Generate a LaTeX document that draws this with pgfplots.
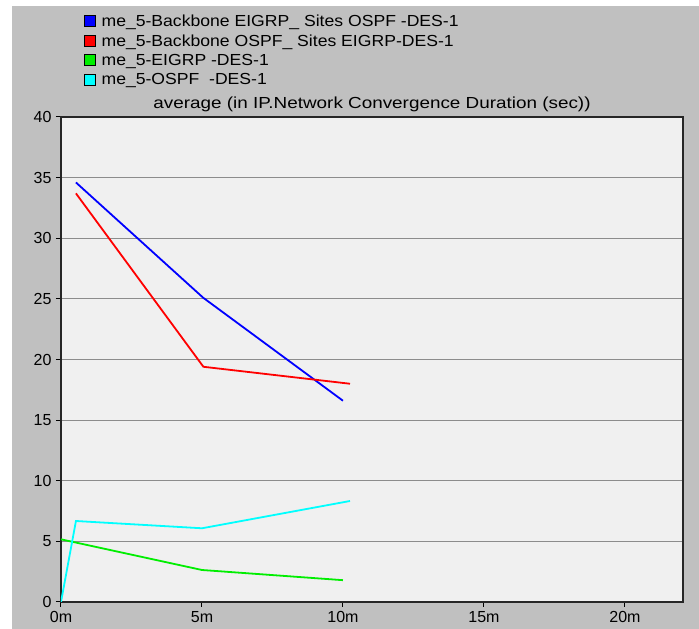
\documentclass[border=0pt]{standalone}
\usepackage{fontspec}
\setmainfont{Liberation Sans}
\newfontfamily\widefont[FakeStretch=1.18]{Liberation Sans}
\newfontfamily\legfont[FakeStretch=1.10]{Liberation Sans}
\usepackage{pgfplots}
\pgfplotsset{compat=1.18}
\definecolor{panelgray}{RGB}{192,192,192}
\definecolor{plotbg}{RGB}{240,240,240}
\definecolor{gridgray}{RGB}{140,140,140}
\definecolor{sblue}{RGB}{0,0,255}
\definecolor{sred}{RGB}{255,0,0}
\definecolor{sgreen}{RGB}{0,238,0}
\definecolor{scyan}{RGB}{0,255,255}

\begin{document}
\begin{tikzpicture}[x=1pt,y=1pt]
  \fill[white] (0,0) rectangle (699,629);
  \fill[panelgray] (12,0) rectangle (699,623);
  \useasboundingbox (0,0) rectangle (699,629);
  \begin{axis}[
    at={(61pt,27pt)}, anchor=south west,
    scale only axis,
    width=622pt, height=485pt,
    xmin=0, xmax=22.06,
    ymin=0, ymax=40,
    axis background/.style={fill=plotbg},
    axis line style={line width=1.6pt, draw=black!85},
    xtick={0,5,10,15,20},
    xticklabels={0m,5m,10m,15m,20m},
    ytick={0,5,10,15,20,25,30,35,40},
    yticklabels={0,5,10,15,20,25,30,35,40},
    tick align=outside,
    major tick length=5pt,
    tick style={line width=1pt, black},
    xtick pos=bottom, ytick pos=left,
    ymajorgrids,
    major grid style={gridgray, line width=1.1pt},
    ticklabel style={font=\fontsize{16}{18}\selectfont},
    /pgf/number format/assume math mode=true,
    xticklabel style={yshift=-1pt},
    yticklabel style={xshift=-1pt},
    title={average (in IP.Network Convergence Duration (sec))},
    title style={font=\widefont\fontsize{16}{18}\selectfont, at={(0.5,1)}, anchor=center, yshift=7pt},
    legend style={
      at={(0.036,1.215)}, anchor=north west,
      draw=none, fill=none,
      font=\legfont\fontsize{16}{18}\selectfont,
      row sep=2.5pt, inner sep=0pt,
      nodes={inner xsep=6pt},
    },
    legend cell align=left,
    legend image code/.code={
      \draw[#1, line width=1pt, draw=black, fill=\pgfkeysvalueof{/pgfplots/legendfill}] (0pt,-5.5pt) rectangle (11pt,5.5pt);
    },
    /pgfplots/legendfill/.initial=white,
  ]
    \addplot[sblue, line width=1.8pt, /pgfplots/legendfill=sblue] coordinates {
      (0.53,34.6) (5.04,25.1) (10.0,16.6)
    };
    \addlegendentry{me\_5-Backbone EIGRP\_ Sites OSPF -DES-1}
    \addplot[sred, line width=1.8pt, /pgfplots/legendfill=sred] coordinates {
      (0.53,33.7) (5.05,19.4) (10.25,18.0)
    };
    \addlegendentry{me\_5-Backbone OSPF\_ Sites EIGRP-DES-1}
    \addplot[sgreen, line width=1.8pt, /pgfplots/legendfill=sgreen] coordinates {
      (0,5.17) (5.0,2.64) (10.0,1.8)
    };
    \addlegendentry{me\_5-EIGRP -DES-1}
    \addplot[scyan, line width=1.8pt, /pgfplots/legendfill=scyan] coordinates {
      (0,0) (0.53,6.68) (5.0,6.08) (10.25,8.33)
    };
    \addlegendentry{me\_5-OSPF\ \ -DES-1}
  \end{axis}
\end{tikzpicture}
\end{document}
